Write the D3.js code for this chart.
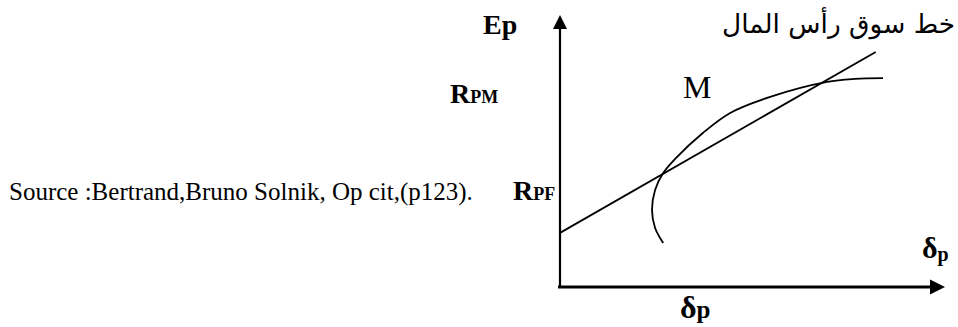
<!DOCTYPE html>
<html>
<head>
<meta charset="utf-8">
<script src="https://cdn.jsdelivr.net/npm/d3@7"></script>
<style>
  html, body { margin: 0; padding: 0; background: #fff; }
  svg { display: block; }
  .serif { font-family: "Times New Roman", "Liberation Serif", serif; fill: #000; }
</style>
</head>
<body>
<svg id="chart" width="958" height="327"></svg>
<script>
// ---- data (conceptual units: sigma on x, expected return on y, 0..100) ----
const xDomain = [0, 100];
const yDomain = [0, 100];

// capital market line (straight line from risk-free rate)
const cmlX = [0, 82];
const cmlY = [19.9, 86.4];

// efficient frontier curve
const frontierX = [26.8, 24.7, 23.9, 24.7, 26.8, 29.9, 37.1, 44.2, 54.6, 69.4, 76.6, 83.9];
const frontierY = [16.2, 21.7, 28.3, 35.7, 41.9, 47.1, 56.6, 64.0, 69.9, 75.4, 76.5, 76.8];

// texts
const yAxisTitle = "Ep";
const xAxisTitleMain = "δ";
const xAxisTitleSub = "p";
const yTickMain = ["R", "R"];
const yTickSub = ["PF", "PM"];
const pointLabel = "M";
const lineLabel = "خط سوق رأس المال";
const sourceText = "Source :Bertrand,Bruno Solnik, Op cit,(p123).";

// ---- layout ----
const svg = d3.select("#chart");
const x = d3.scaleLinear().domain(xDomain).range([560, 945]);
const y = d3.scaleLinear().domain(yDomain).range([287, 15]);

// axes
const axisG = svg.append("g");
axisG.append("line")
  .attr("x1", x(0)).attr("x2", x(0))
  .attr("y1", y(0) + 1).attr("y2", y(100) + 14)
  .attr("stroke", "#000").attr("stroke-width", 2.2);
axisG.append("path")
  .attr("d", `M${x(0)},${y(100)} L${x(0) - 7},${y(100) + 14} L${x(0) + 7},${y(100) + 14} Z`)
  .attr("fill", "#000");
axisG.append("line")
  .attr("x1", x(0) - 2).attr("x2", x(100) - 15)
  .attr("y1", y(0)).attr("y2", y(0))
  .attr("stroke", "#000").attr("stroke-width", 3);
axisG.append("path")
  .attr("d", `M${x(100)},${y(0)} L${x(100) - 15},${y(0) - 7.5} L${x(100) - 15},${y(0) + 7.5} Z`)
  .attr("fill", "#000");

// capital market line
const cml = cmlX.map((v, i) => [v, cmlY[i]]);
svg.append("path")
  .attr("d", d3.line().x(d => x(d[0])).y(d => y(d[1]))(cml))
  .attr("fill", "none").attr("stroke", "#000").attr("stroke-width", 1.8);

// efficient frontier
const frontier = frontierX.map((v, i) => [v, frontierY[i]]);
svg.append("path")
  .attr("d", d3.line().x(d => x(d[0])).y(d => y(d[1])).curve(d3.curveCatmullRom.alpha(0.5))(frontier))
  .attr("fill", "none").attr("stroke", "#000").attr("stroke-width", 1.8);

// y axis title
svg.append("text").attr("class", "serif")
  .attr("x", 483).attr("y", 34)
  .attr("font-size", 28).attr("font-weight", "bold")
  .text(yAxisTitle);

// y tick-like labels
const tickPos = [{x: 513, y: 200}, {x: 450, y: 103}];
tickPos.forEach((p, i) => {
  const t = svg.append("text").attr("class", "serif")
    .attr("x", p.x).attr("y", p.y).attr("font-weight", "bold");
  t.append("tspan").attr("font-size", 28).text(yTickMain[i]);
  t.append("tspan").attr("font-size", 18).text(yTickSub[i]);
});

// M label
svg.append("text").attr("class", "serif")
  .attr("x", 683).attr("y", 98).attr("font-size", 32)
  .text(pointLabel);

// Arabic label
const ar = svg.append("text")
  .attr("x", 955).attr("y", 33)
  .attr("text-anchor", "end")
  .attr("font-family", "'DejaVu Sans', sans-serif")
  .attr("font-size", 24)
  .attr("fill", "#000")
  .text(lineLabel);
const arW = ar.node().getComputedTextLength();
ar.attr("font-size", 24 * 233 / arW);

// x axis titles
const xr = svg.append("text").attr("class", "serif")
  .attr("x", 922).attr("y", 258).attr("font-weight", "bold");
xr.append("tspan").attr("font-size", 30).text(xAxisTitleMain);
xr.append("tspan").attr("font-size", 20).attr("dy", 3).text(xAxisTitleSub);

const xb = svg.append("text").attr("class", "serif")
  .attr("x", 680).attr("y", 318).attr("font-weight", "bold");
xb.append("tspan").attr("font-size", 32).text(xAxisTitleMain);
xb.append("tspan").attr("font-size", 25).text(xAxisTitleSub);

// source
svg.append("text").attr("class", "serif")
  .attr("x", 9).attr("y", 200).attr("font-size", 25)
  .text(sourceText);
</script>
</body>
</html>
